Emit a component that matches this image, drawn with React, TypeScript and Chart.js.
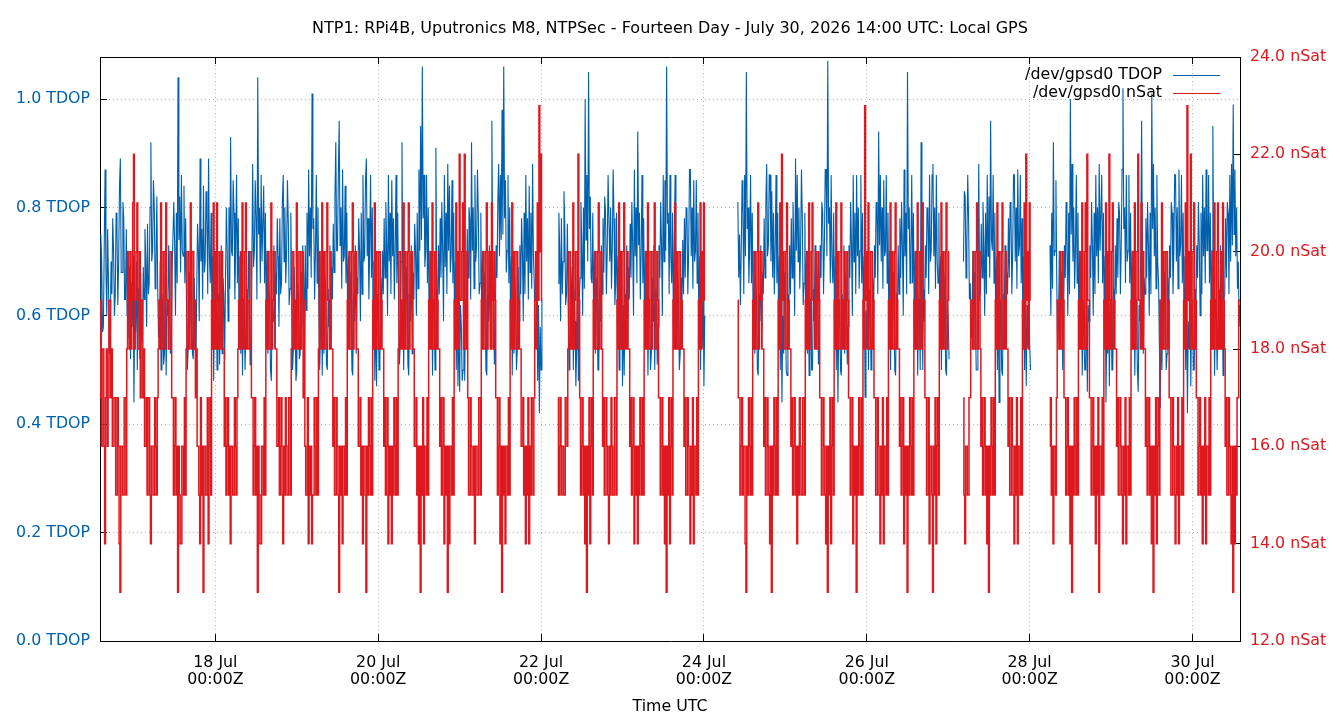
import { useEffect, useRef } from "react";
import { Chart, registerables } from "chart.js";

Chart.register(...registerables);

// ---- text ----
const TITLE =
  "NTP1: RPi4B, Uputronics M8, NTPSec - Fourteen Day - July 30, 2026 14:00 UTC: Local GPS";
const X_TITLE = "Time UTC";
const TDOP_LABEL = "/dev/gpsd0 TDOP";
const NSAT_LABEL = "/dev/gpsd0 nSat";

// ---- axes ----
const RANGE_START = "2026-07-16T14:00:00Z";
const RANGE_END = "2026-07-30T14:00:00Z";
const X_TICK_DATES = [
  "2026-07-18T00:00:00Z",
  "2026-07-20T00:00:00Z",
  "2026-07-22T00:00:00Z",
  "2026-07-24T00:00:00Z",
  "2026-07-26T00:00:00Z",
  "2026-07-28T00:00:00Z",
  "2026-07-30T00:00:00Z",
];
const MONTHS = ["Jan", "Feb", "Mar", "Apr", "May", "Jun", "Jul", "Aug", "Sep", "Oct", "Nov", "Dec"];
const TDOP_TICKS = [0, 0.2, 0.4, 0.6, 0.8, 1.0];
const TDOP_MAX = 1.0775;
const NSAT_TICKS = [12, 14, 16, 18, 20, 22, 24];

// ---- samples: one every 15 minutes, in contiguous runs ----
const SAMPLE_MINUTES = 15;
const RUN_STARTS = [
  "2026-07-16T14:00:00Z",
  "2026-07-22T05:00:00Z",
  "2026-07-24T10:00:00Z",
  "2026-07-27T04:30:00Z",
  "2026-07-28T06:00:00Z",
];

const NSAT_A = [
  17,19, 16,18, 18,16, 14,17, 18,16, 17,19, 19,17, 18,16,
  16,17, 17,15, 15,17, 16,14, 13,16, 16,15, 15,17, 17,15,
  18,20, 19,18, 20,18, 19,21, 22,18, 19,20, 21,18, 18,20, 17,19, 19,17, 18,16,
  16,17, 15,17, 17,15, 14,16, 16,15, 15,17, 16,15, 17,18,
  19,18, 21,18, 18,20, 20,18, 21,19, 19,18, 18,20, 20,17,
  17,15, 16,17, 15,16, 13,16, 15,14, 14,16, 16,15, 17,15,
  18,20, 20,18, 19,21, 18,20, 20,18, 19,17, 18,16,
  16,15, 14,17, 15,16, 13,16, 16,15, 15,17, 14,16, 17,15,
  19,18, 21,18, 20,18, 21,19, 18,20, 19,18, 20,18, 18,16,
  17,15, 16,17, 15,16, 14,16, 16,15, 15,17, 16,15, 17,18,
  19,18, 20,18, 21,19, 18,20, 21,18, 19,18, 18,20, 20,17,
  17,15, 16,17, 15,16, 13,16, 15,14, 14,16, 16,15, 17,15,
  19,18, 20,18, 18,20, 21,18, 19,20, 20,18, 18,16,
  16,17, 15,16, 17,15, 14,16, 15,17, 16,15, 15,17, 17,15,
  18,20, 20,18, 19,18, 21,19, 18,20, 20,18, 19,20, 17,19,
  16,15, 15,17, 14,16, 15,16, 14,15, 15,17, 16,15, 17,15,
  18,20, 19,18, 21,18, 20,18, 18,20, 21,19, 19,18, 20,18, 18,16,
  17,15, 15,17, 16,15, 13,16, 15,16, 14,16, 16,15, 17,15,
  19,18, 20,18, 18,20, 21,18, 19,20, 20,18, 18,16,
  16,17, 15,16, 14,16, 16,15, 13,16, 15,17, 16,15, 17,15,
  19,18, 21,18, 20,18, 18,20, 20,18, 19,18, 18,16,
  17,15, 16,17, 14,16, 15,16, 14,16, 15,17, 16,15, 17,15,
  18,20, 20,18, 19,18, 21,18, 20,18, 18,20, 21,18, 19,20, 20,18, 18,16,
  16,17, 15,16, 14,16, 13,16, 15,17, 14,16, 16,15, 17,15,
  19,18, 20,18, 21,18, 18,20, 20,18, 19,18, 18,16,
  17,15, 16,17, 14,16, 15,16, 13,16, 14,16, 16,15, 17,15,
  19,18, 21,18, 20,18, 22,19, 19,20, 21,18, 22,19, 18,20,
  17,15, 15,17, 16,15, 15,16, 14,16, 16,15, 15,17, 17,15,
  19,18, 20,18, 18,20, 21,18, 19,20, 20,18, 21,19, 18,20, 19,17,
  17,15, 16,17, 14,16, 13,16, 15,16, 14,16, 16,15, 17,15,
  19,18, 21,18, 20,18, 18,20, 20,18, 19,18, 18,16,
  16,17, 15,16, 14,16, 15,17, 14,16, 15,17, 16,15, 17,19,
  20,18, 21,19, 23,20, 22,19,
];
const TDOP_A = [
  0.62,0.75, 0.70,0.57, 0.58,0.73, 0.87,0.68, 0.60,0.76, 0.66,0.53, 0.55,0.70, 0.64,0.78,
  0.72,0.60, 0.64,0.79, 0.76,0.62, 0.70,0.84, 0.89,0.68, 0.68,0.81, 0.78,0.63, 0.63,0.76,
  0.60,0.72, 0.56,0.69, 0.52,0.66, 0.58,0.71, 0.44,0.62, 0.57,0.70, 0.50,0.65, 0.62,0.52, 0.68,0.56, 0.55,0.69, 0.63,0.76,
  0.70,0.58, 0.77,0.64, 0.66,0.80, 0.92,0.70, 0.72,0.85, 0.80,0.65, 0.69,0.82, 0.65,0.56,
  0.56,0.70, 0.50,0.64, 0.62,0.51, 0.53,0.68, 0.49,0.63, 0.60,0.73, 0.64,0.53, 0.54,0.68,
  0.68,0.81, 0.73,0.60, 0.79,0.66, 1.04,0.74, 0.82,0.68, 0.86,0.72, 0.71,0.84, 0.66,0.78,
  0.62,0.50, 0.54,0.68, 0.58,0.72, 0.65,0.53, 0.52,0.67, 0.60,0.49, 0.64,0.77,
  0.72,0.59, 0.89,0.70, 0.76,0.63, 0.84,0.68, 0.70,0.83, 0.78,0.64, 0.89,0.71, 0.66,0.79,
  0.58,0.71, 0.48,0.62, 0.55,0.69, 0.50,0.64, 0.63,0.51, 0.59,0.73, 0.53,0.67, 0.64,0.52,
  0.67,0.80, 0.72,0.59, 0.80,0.65, 0.93,0.72, 0.71,0.85, 0.79,0.63, 0.73,0.86, 0.66,0.78,
  0.57,0.71, 0.53,0.67, 0.49,0.63, 0.63,0.50, 0.50,0.65, 0.58,0.72, 0.64,0.51, 0.54,0.69,
  0.88,0.69, 0.72,0.85, 0.78,0.63, 1.04,0.75, 0.80,0.66, 0.86,0.70, 0.70,0.84, 0.66,0.79,
  0.58,0.72, 0.53,0.66, 0.63,0.50, 0.48,0.63, 0.59,0.73, 0.54,0.68, 0.64,0.78,
  0.71,0.58, 0.78,0.64, 0.66,0.81, 0.86,0.70, 0.80,0.66, 0.72,0.85, 0.77,0.62, 0.65,0.79,
  0.62,0.50, 0.54,0.69, 0.59,0.48, 0.50,0.66, 0.64,0.52, 0.53,0.68, 0.58,0.73, 0.68,0.55,
  0.73,0.61, 0.79,0.65, 0.87,0.71, 0.80,0.67, 1.01,0.76, 0.78,0.63, 0.72,0.86, 0.66,0.80,
  0.62,0.50, 0.57,0.71, 0.49,0.64, 0.53,0.68, 0.64,0.51, 0.50,0.65, 0.58,0.73, 0.54,0.69, 0.63,0.77,
  0.68,0.82, 0.92,0.72, 0.72,0.86, 0.96,0.73, 0.80,0.65, 0.87,0.70, 0.71,0.84, 0.66,0.79,
  0.58,0.71, 0.54,0.68, 0.63,0.50, 0.49,0.64, 0.59,0.73, 0.53,0.67, 0.64,0.78,
  0.72,0.59, 0.79,0.64, 0.86,0.70, 0.71,0.85, 0.89,0.71, 0.78,0.63, 0.73,0.86, 0.67,0.80,
  0.57,0.70, 0.48,0.62, 0.47,0.64, 0.63,0.50, 0.52,0.67, 0.58,0.72, 0.64,0.78,
  0.67,0.81, 0.73,0.60, 0.86,0.70, 0.79,0.64, 0.85,0.71, 0.78,0.63, 0.72,0.86, 0.66,0.79,
  0.63,0.51, 0.55,0.70, 0.92,0.66, 0.50,0.65, 0.54,0.69, 0.64,0.51, 0.49,0.64, 0.59,0.73, 0.53,0.68, 0.63,0.77,
  0.72,0.60, 0.79,0.65, 0.87,0.72, 0.95,0.74, 1.06,0.78, 0.86,0.69, 0.72,0.86, 0.66,0.80,
  0.58,0.72, 0.54,0.68, 0.49,0.63, 0.63,0.50, 0.91,0.65, 0.59,0.73, 0.64,0.78,
  0.67,0.81, 0.72,0.59, 0.86,0.69, 0.79,0.64, 0.88,0.72, 0.84,0.68, 0.71,0.85, 0.66,0.79,
  0.58,0.70, 0.50,0.64, 0.47,0.61, 0.46,0.62, 0.58,0.48, 0.50,0.66, 0.48,0.63, 0.63,0.76,
  0.67,0.80, 0.78,0.63, 0.92,0.72, 0.80,0.65, 0.86,0.70, 0.73,0.87, 0.79,0.64, 0.66,0.79,
  0.58,0.72, 0.54,0.68, 0.63,0.50, 0.49,0.64, 0.59,0.73, 0.54,0.68, 0.96,0.70, 0.64,0.51, 0.58,0.73,
  0.67,0.81, 0.88,0.71, 0.86,0.74, 0.98,0.75, 1.06,0.78, 0.85,0.68, 0.72,0.86, 0.66,0.80,
  0.58,0.71, 0.49,0.63, 0.53,0.67, 0.63,0.50, 0.54,0.69, 0.59,0.73, 0.64,0.78,
  0.72,0.59, 0.79,0.64, 0.86,0.70, 0.78,0.63, 0.84,0.68, 0.79,0.65, 0.88,0.71, 0.66,0.54,
  0.55,0.68, 0.48,0.62, 0.42,0.58, 0.50,0.63,
];

const NSAT_B = [
  17,15, 16,17, 15,16, 16,15, 15,17, 17,16,
  18,20, 20,18, 19,18, 21,18, 19,20, 20,18, 22,19,
  17,15, 16,17, 15,16, 14,16, 13,16, 15,17, 14,16, 17,15,
  19,18, 20,18, 18,20, 21,18, 19,20, 18,16,
  17,15, 15,17, 16,15, 14,16, 15,17, 16,15, 15,17, 17,15,
  19,18, 21,18, 20,18, 18,20, 21,18, 19,18, 20,18, 18,16,
  17,15, 16,17, 14,16, 15,16, 14,16, 15,17, 16,15, 17,15,
  19,18, 20,18, 21,18, 18,20, 20,18, 19,20, 21,18, 18,20, 19,17,
  17,15, 16,17, 15,16, 14,16, 13,16, 15,17, 14,16, 17,15,
  19,18, 21,18, 20,18, 18,20, 20,18, 19,18, 18,16,
  17,15, 15,17, 16,15, 14,16, 15,17, 14,16, 16,15, 17,15,
  19,18, 21,18, 20,19, 21,19,
];
const TDOP_B = [
  0.66,0.79, 0.72,0.59, 0.78,0.64, 0.70,0.83, 0.76,0.62, 0.64,0.77,
  0.62,0.50, 0.55,0.69, 0.58,0.72, 0.50,0.65, 0.59,0.47, 0.54,0.68, 0.48,0.63,
  0.67,0.81, 0.73,0.60, 0.80,0.65, 1.00,0.74, 0.86,0.70, 1.05,0.76, 0.82,0.67, 0.66,0.79,
  0.58,0.72, 0.53,0.67, 0.63,0.50, 0.50,0.65, 0.59,0.73, 0.64,0.78,
  0.68,0.82, 0.79,0.64, 0.72,0.86, 0.86,0.70, 0.80,0.65, 0.73,0.87, 0.78,0.62, 0.66,0.79,
  0.58,0.71, 0.50,0.65, 0.54,0.68, 0.47,0.62, 0.49,0.64, 0.59,0.73, 0.54,0.69, 0.63,0.77,
  0.67,0.81, 0.73,0.60, 0.87,0.71, 0.80,0.66, 0.94,0.73, 0.79,0.63, 0.72,0.86, 0.66,0.78,
  0.58,0.72, 0.54,0.68, 0.49,0.63, 0.63,0.50, 0.53,0.67, 0.59,0.73, 0.50,0.65, 0.64,0.51, 0.58,0.73,
  0.67,0.81, 0.73,0.60, 0.86,0.70, 0.85,0.72, 1.06,0.77, 0.79,0.64, 0.86,0.71, 0.66,0.79,
  0.58,0.73, 0.86,0.65, 0.54,0.68, 0.63,0.50, 0.53,0.67, 0.59,0.74, 0.64,0.78,
  0.67,0.80, 0.79,0.64, 0.72,0.87, 0.87,0.71, 0.80,0.65, 0.85,0.70, 0.72,0.85, 0.66,0.79,
  0.58,0.71, 0.50,0.64, 0.54,0.67, 0.47,0.60,
];

const NSAT_C = [
  19,17,
  17,15, 16,17, 15,16, 16,14, 13,16, 15,17, 16,15, 17,15,
  19,18, 20,18, 18,20, 21,18, 19,20, 20,18, 18,16,
  17,15, 15,17, 16,15, 14,16, 13,16, 15,17, 16,15, 17,15,
  19,18, 21,18, 22,19, 20,18, 18,20, 21,18, 19,18, 18,16,
  17,15, 16,17, 15,16, 14,16, 15,17, 16,15, 15,17, 17,15,
  19,18, 20,18, 21,18, 18,20, 21,19, 19,18, 20,18, 18,20, 19,17,
  17,15, 15,17, 16,15, 14,16, 13,16, 15,17, 14,16, 17,15,
  19,18, 21,18, 20,18, 18,20, 21,18, 19,18, 20,18, 18,20, 19,17,
  17,15, 16,17, 14,16, 15,16, 13,16, 15,17, 16,15, 17,15,
  19,18, 23,19, 20,18, 21,18, 18,20, 20,18, 19,17,
  17,15, 15,17, 16,15, 14,16, 15,17, 14,16, 16,15, 17,15,
  19,18, 21,18, 20,18, 18,20, 21,18, 19,18, 18,16,
  17,15, 16,17, 14,16, 15,16, 13,16, 15,17, 16,15, 17,15,
  19,18, 20,18, 21,18, 18,20, 20,18, 21,19, 19,17,
  17,15, 15,17, 14,16, 16,15, 13,16, 15,17, 14,16, 17,15,
  19,18, 21,18, 20,18, 18,20, 21,18, 19,20,
];
const TDOP_C = [
  0.81,0.67,
  0.75,0.62, 0.72,0.85, 0.79,0.64, 0.86,0.71, 1.05,0.76, 0.80,0.66, 0.73,0.86, 0.66,0.79,
  0.58,0.72, 0.53,0.67, 0.63,0.50, 0.49,0.64, 0.59,0.73, 0.54,0.68, 0.64,0.78,
  0.67,0.81, 0.88,0.71, 0.73,0.86, 0.86,0.70, 0.83,0.67, 0.79,0.64, 0.72,0.86, 0.66,0.79,
  0.58,0.71, 0.50,0.65, 0.44,0.60, 0.53,0.68, 0.63,0.50, 0.49,0.64, 0.59,0.73, 0.64,0.78,
  0.67,0.81, 0.73,0.60, 0.89,0.72, 0.86,0.70, 0.80,0.65, 0.73,0.87, 0.78,0.62, 0.66,0.79,
  0.58,0.72, 0.53,0.67, 0.49,0.63, 0.63,0.50, 0.50,0.65, 0.59,0.73, 0.54,0.69, 0.64,0.51, 0.58,0.73,
  0.67,0.81, 0.79,0.64, 0.73,0.87, 0.87,0.71, 1.07,0.77, 0.80,0.66, 0.86,0.70, 0.66,0.79,
  0.58,0.71, 0.50,0.65, 0.44,0.60, 0.63,0.50, 0.49,0.64, 0.59,0.73, 0.53,0.68, 0.64,0.51, 0.58,0.73,
  0.67,0.81, 0.73,0.60, 0.86,0.70, 0.79,0.64, 0.86,0.71, 0.80,0.65, 0.72,0.86, 0.66,0.79,
  0.58,0.71, 0.45,0.61, 0.54,0.68, 0.50,0.65, 0.63,0.50, 0.53,0.67, 0.59,0.73,
  0.67,0.81, 0.79,0.64, 0.94,0.73, 0.86,0.70, 0.80,0.65, 0.85,0.71, 0.72,0.86, 0.66,0.79,
  0.58,0.72, 0.50,0.65, 0.54,0.68, 0.63,0.50, 0.49,0.64, 0.59,0.73, 0.64,0.78,
  0.67,0.81, 0.73,0.60, 0.87,0.71, 0.79,0.64, 1.05,0.76, 0.80,0.66, 0.72,0.86, 0.66,0.79,
  0.58,0.72, 0.54,0.68, 0.49,0.63, 0.63,0.50, 0.92,0.66, 0.50,0.65, 0.59,0.73,
  0.67,0.80, 0.79,0.64, 0.86,0.70, 0.72,0.86, 0.88,0.71, 0.80,0.65, 0.86,0.70, 0.66,0.79,
  0.58,0.71, 0.50,0.65, 0.54,0.68, 0.63,0.50, 0.49,0.63, 0.59,0.52,
];

const NSAT_D = [
  17,15, 14,16, 16,15, 15,17, 17,19,
  19,18, 20,18, 18,20, 21,18, 19,20, 18,16,
  17,15, 16,17, 15,16, 14,16, 13,16, 15,17, 16,15, 17,15,
  19,18, 21,18, 20,18, 18,20, 21,18, 19,18, 20,18, 18,16,
  17,15, 15,17, 16,15, 14,16, 15,17, 14,16, 16,15, 17,15,
  19,18, 21,18, 22,19, 20,18, 21,19,
];
const TDOP_D = [
  0.70,0.83, 0.82,0.67, 0.73,0.86, 0.78,0.63, 0.66,0.56,
  0.58,0.72, 0.54,0.68, 0.63,0.50, 0.50,0.65, 0.88,0.66, 0.64,0.77,
  0.67,0.81, 0.73,0.60, 0.79,0.64, 0.86,0.71, 0.82,0.67, 0.96,0.74, 0.72,0.86, 0.66,0.79,
  0.58,0.71, 0.50,0.65, 0.44,0.60, 0.63,0.50, 0.49,0.64, 0.59,0.73, 0.54,0.68, 0.64,0.78,
  0.67,0.81, 0.79,0.64, 0.72,0.86, 0.86,0.70, 0.80,0.65, 0.87,0.71, 0.73,0.86, 0.66,0.78,
  0.58,0.71, 0.50,0.64, 0.47,0.62, 0.54,0.67, 0.55,0.50,
];

const NSAT_E = [
  16,17, 15,16, 14,16, 16,15, 17,19,
  19,18, 20,18, 18,20, 19,17,
  17,15, 16,17, 15,16, 14,16, 13,16, 15,17, 16,15, 17,15,
  19,18, 20,18, 21,18, 18,20, 21,18, 22,19, 19,17,
  17,15, 16,17, 15,16, 14,16, 15,17, 13,16, 16,15, 17,15,
  19,18, 21,18, 20,18, 22,19, 18,20, 21,18, 19,18, 18,16,
  17,15, 15,17, 16,15, 14,16, 15,17, 14,16, 16,15, 17,15,
  19,18, 20,18, 21,18, 18,20, 22,19, 19,18, 21,18, 20,18, 18,16,
  17,15, 16,17, 15,16, 14,16, 13,16, 15,17, 14,16, 17,15,
  19,18, 21,18, 20,18, 18,20, 20,18, 19,17,
  17,15, 15,17, 16,15, 14,16, 15,17, 14,16, 16,15, 17,15,
  19,18, 21,18, 23,19, 20,18, 22,19, 18,20, 21,18, 19,17,
  17,15, 16,17, 15,16, 14,16, 15,17, 14,16, 16,15, 17,15,
  19,18, 20,18, 21,18, 18,20, 21,18, 19,18, 20,18, 21,19, 18,16,
  17,15, 15,17, 16,15, 14,16, 13,16, 14,16, 15,17, 17,19,
  19,18,
];
const TDOP_E = [
  0.73,0.60, 0.79,0.65, 0.92,0.71, 0.72,0.85, 0.66,0.55,
  0.58,0.72, 0.54,0.68, 0.63,0.50, 0.59,0.73,
  0.67,0.81, 0.73,0.60, 0.79,0.64, 1.00,0.75, 0.88,0.70, 0.80,0.65, 0.72,0.86, 0.66,0.79,
  0.58,0.72, 0.54,0.68, 0.49,0.63, 0.63,0.50, 0.50,0.65, 0.46,0.62, 0.59,0.73,
  0.67,0.81, 0.73,0.60, 0.79,0.64, 0.86,0.71, 0.80,0.66, 0.88,0.72, 0.72,0.86, 0.66,0.79,
  0.58,0.71, 0.44,0.60, 0.53,0.68, 0.47,0.62, 0.63,0.50, 0.50,0.65, 0.59,0.73, 0.64,0.78,
  0.67,0.81, 0.79,0.64, 0.73,0.87, 1.02,0.76, 0.80,0.66, 0.86,0.70, 0.72,0.86, 0.66,0.79,
  0.58,0.72, 0.54,0.68, 0.49,0.63, 0.63,0.50, 0.46,0.62, 0.59,0.73, 0.96,0.70, 0.53,0.67, 0.64,0.78,
  0.67,0.81, 0.73,0.60, 0.79,0.64, 1.01,0.76, 0.88,0.71, 0.80,0.65, 0.86,0.70, 0.66,0.54,
  0.43,0.60, 0.50,0.65, 0.54,0.68, 0.63,0.50, 0.53,0.67, 0.59,0.73,
  0.67,0.81, 0.79,0.64, 0.72,0.86, 0.86,0.70, 0.80,0.65, 0.87,0.71, 0.73,0.86, 0.66,0.79,
  0.58,0.71, 0.50,0.65, 0.42,0.59, 0.54,0.68, 0.47,0.62, 0.63,0.50, 0.50,0.65, 0.59,0.73,
  0.67,0.81, 0.73,0.60, 0.79,0.64, 0.86,0.71, 0.80,0.66, 0.87,0.72, 0.72,0.86, 0.66,0.79,
  0.58,0.72, 0.95,0.70, 0.49,0.63, 0.63,0.50, 0.50,0.65, 0.59,0.73, 0.54,0.68, 0.49,0.63, 0.64,0.78,
  0.67,0.81, 0.79,0.64, 0.86,0.70, 0.88,0.73, 0.99,0.75, 0.87,0.71, 0.80,0.65, 0.70,0.58,
  0.62,0.68,
];

const TDOP_RUNS = [TDOP_A, TDOP_B, TDOP_C, TDOP_D, TDOP_E];
const NSAT_RUNS = [NSAT_A, NSAT_B, NSAT_C, NSAT_D, NSAT_E];

// ---- style ----
const FONT_FAMILY = '"DejaVu Sans", "Liberation Sans", sans-serif';
const FONT_SIZE = 15.8;
const TITLE_SIZE = 16;
const BLUE = "#0060ad";
const RED = "#dd181f";
const GRID = "#b4b4b4";
const KEY_COLORS = [BLUE, RED];

type Pt = { x: number; y: number | null };

// Join the runs into one series, with a null point between runs so the line breaks.
function joinRuns(runs: number[][]): Pt[] {
  const stepMs = SAMPLE_MINUTES * 60 * 1000;
  const out: Pt[] = [];
  runs.forEach((run, r) => {
    const t0 = Date.parse(RUN_STARTS[r]);
    run.forEach((v, i) => out.push({ x: t0 + i * stepMs, y: v }));
    if (r < runs.length - 1) out.push({ x: t0 + run.length * stepMs, y: null });
  });
  return out;
}

// Key in the upper right corner: right-aligned text followed by a line sample.
const keyPlugin = {
  id: "cornerKey",
  afterDraw(chart: any) {
    const { ctx, chartArea } = chart;
    ctx.save();
    ctx.font = `${FONT_SIZE}px ${FONT_FAMILY}`;
    ctx.textAlign = "right";
    ctx.textBaseline = "middle";
    chart.data.datasets.forEach((ds: any, i: number) => {
      const y = chartArea.top + 17.5 + i * 18;
      ctx.fillStyle = "#000";
      ctx.fillText(ds.label, chartArea.right - 78, y);
      ctx.strokeStyle = KEY_COLORS[i];
      ctx.lineWidth = 1.2;
      ctx.beginPath();
      ctx.moveTo(chartArea.right - 67, Math.round(y) + 0.5);
      ctx.lineTo(chartArea.right - 20, Math.round(y) + 0.5);
      ctx.stroke();
    });
    ctx.restore();
  },
};

const xTickValues = () => X_TICK_DATES.map((d) => ({ value: Date.parse(d) }));

function xTickLabel(v: number | string) {
  const d = new Date(Number(v));
  const hh = String(d.getUTCHours()).padStart(2, "0");
  const mm = String(d.getUTCMinutes()).padStart(2, "0");
  return [`${d.getUTCDate()} ${MONTHS[d.getUTCMonth()]}`, `${hh}:${mm}Z`];
}

export default function App() {
  const canvasRef = useRef<HTMLCanvasElement | null>(null);

  useEffect(() => {
    const canvas = canvasRef.current;
    if (!canvas) return;

    const font = { family: FONT_FAMILY, size: FONT_SIZE, weight: "normal" as const };

    const chart = new Chart(canvas, {
      type: "line",
      data: {
        datasets: [
          {
            label: TDOP_LABEL,
            data: joinRuns(TDOP_RUNS) as any,
            borderColor: BLUE,
            backgroundColor: BLUE,
            borderWidth: 1.1,
            pointRadius: 0,
            tension: 0,
            fill: false,
            spanGaps: false,
            yAxisID: "y",
            order: 2,
          },
          {
            label: NSAT_LABEL,
            data: joinRuns(NSAT_RUNS) as any,
            borderColor: RED,
            backgroundColor: RED,
            borderWidth: 1.5,
            pointRadius: 0,
            stepped: "middle",
            fill: false,
            spanGaps: false,
            yAxisID: "y2",
            order: 1,
          },
        ],
      },
      options: {
        animation: false,
        responsive: false,
        devicePixelRatio: 1,
        layout: { padding: 0 },
        events: [],
        plugins: {
          legend: { display: false },
          tooltip: { enabled: false },
          title: {
            display: true,
            text: TITLE,
            color: "#000",
            font: { family: FONT_FAMILY, size: TITLE_SIZE, weight: "normal", lineHeight: 1.2 },
            padding: { top: 19.6, bottom: 18.2 },
          },
        },
        scales: {
          x: {
            type: "linear",
            position: "bottom",
            min: Date.parse(RANGE_START),
            max: Date.parse(RANGE_END),
            afterBuildTicks: (s: any) => {
              s.ticks = xTickValues();
            },
            afterFit: (s: any) => {
              s.height = 79;
            },
            grid: { color: GRID, lineWidth: 1, tickLength: -7, tickColor: "#000", tickWidth: 1 },
            border: { display: true, color: "#000", width: 1, dash: [1, 3] },
            ticks: {
              color: "#000",
              padding: 20,
              autoSkip: false,
              maxRotation: 0,
              minRotation: 0,
              font: { ...font, lineHeight: 17.5 / FONT_SIZE },
              callback: (v: any) => xTickLabel(v),
            },
            title: {
              display: true,
              text: X_TITLE,
              color: "#000",
              font: { ...font, lineHeight: 1.2 },
              padding: { top: 0, bottom: 3.2 },
            },
          },
          x2: {
            type: "linear",
            position: "top",
            min: Date.parse(RANGE_START),
            max: Date.parse(RANGE_END),
            afterBuildTicks: (s: any) => {
              s.ticks = xTickValues();
            },
            afterFit: (s: any) => {
              s.height = 0;
            },
            grid: { drawOnChartArea: false, tickLength: -7, tickColor: "#000", tickWidth: 1 },
            border: { display: true, color: "#000", width: 1 },
            ticks: { display: false },
          },
          y: {
            type: "linear",
            position: "left",
            min: 0,
            max: TDOP_MAX,
            afterBuildTicks: (s: any) => {
              s.ticks = TDOP_TICKS.map((v) => ({ value: v }));
            },
            afterFit: (s: any) => {
              s.width = 100;
            },
            grid: { color: GRID, lineWidth: 1, tickLength: -7, tickColor: "#000", tickWidth: 1 },
            border: { display: true, color: "#000", width: 1, dash: [1, 3] },
            ticks: {
              color: BLUE,
              padding: 17,
              font: { ...font, lineHeight: 1.2 },
              callback: (v: any) => `${Number(v).toFixed(1)} TDOP`,
            },
          },
          y2: {
            type: "linear",
            position: "right",
            min: NSAT_TICKS[0],
            max: NSAT_TICKS[NSAT_TICKS.length - 1],
            afterBuildTicks: (s: any) => {
              s.ticks = NSAT_TICKS.map((v) => ({ value: v }));
            },
            afterFit: (s: any) => {
              s.width = 100;
            },
            grid: { drawOnChartArea: false, tickLength: -7, tickColor: "#000", tickWidth: 1 },
            border: { display: true, color: "#000", width: 1 },
            ticks: {
              color: RED,
              padding: 17,
              font: { ...font, lineHeight: 1.2 },
              callback: (v: any) => `${Number(v).toFixed(1)} nSat`,
            },
          },
        },
      },
      plugins: [keyPlugin],
    });

    return () => chart.destroy();
  }, []);

  return (
    <div style={{ position: "fixed", left: 0, top: 0, width: 1340, height: 720, background: "#fff" }}>
      <canvas ref={canvasRef} width={1340} height={720} style={{ display: "block" }} />
    </div>
  );
}
